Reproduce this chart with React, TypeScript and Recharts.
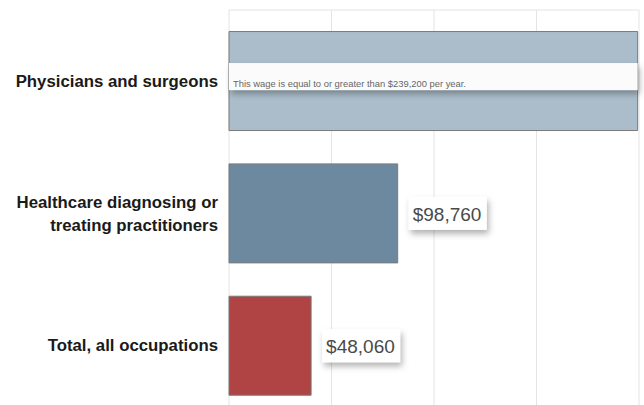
import { BarChart, Bar, XAxis, YAxis, CartesianGrid, Cell, LabelList } from "recharts";

const categories = [
  "Physicians and surgeons",
  "Healthcare diagnosing or treating practitioners",
  "Total, all occupations",
];
const tickLines = [
  ["Physicians and surgeons"],
  ["Healthcare diagnosing or", "treating practitioners"],
  ["Total, all occupations"],
];
const wages = [239200, 98760, 48060];
const notes = ["This wage is equal to or greater than $239,200 per year.", "", ""];
const barColors = ["#abbdca", "#6d899f", "#b04343"];
const xTicks = [0, 60000, 120000, 180000, 240000];

const data = categories.map((name, i) => ({ name, wage: wages[i], note: notes[i] }));

const fmt = (v: number) => "$" + v.toLocaleString("en-US");

function CategoryTick(props: any) {
  const { x, y, payload } = props;
  const idx = categories.indexOf(payload.value);
  const lines = tickLines[idx] ?? [payload.value];
  const lh = 23;
  const start = y - ((lines.length - 1) * lh) / 2;
  return (
    <text
      x={x}
      y={start}
      textAnchor="end"
      fontFamily="'Liberation Sans', Arial, sans-serif"
      fontWeight="bold"
      fontSize={16.8}
      fill="#1a1a1a"
    >
      {lines.map((l, i) => (
        <tspan key={i} x={x} y={start + i * lh} dominantBaseline="central">
          {l}
        </tspan>
      ))}
    </text>
  );
}

function ValueLabel(props: any) {
  const { x, y, width, height, value, index } = props;
  const cy = y + height / 2;
  const note = notes[index];
  if (note) {
    return (
      <g>
        <rect x={x} y={cy - 18} width={width} height={27} fill="#fbfbfb" filter="url(#shadow)" />
        <text
          x={x + 4}
          y={cy + 2}
          dominantBaseline="central"
          fontFamily="'Liberation Sans', Arial, sans-serif"
          fontSize={9.4}
          fill="#666"
        >
          {note}
        </text>
      </g>
    );
  }
  const bx = x + width + 11;
  return (
    <g>
      <rect x={bx} y={cy - 16.5} width={78} height={33} fill="#fff" filter="url(#shadow)" />
      <text
        x={bx + 4}
        y={cy + 1}
        dominantBaseline="central"
        fontFamily="'Liberation Sans', Arial, sans-serif"
        fontSize={19}
        fill="#4a4a4a"
      >
        {fmt(value)}
      </text>
    </g>
  );
}

export default function App() {
  return (
    <div
      style={{
        position: "fixed",
        top: 0,
        left: 0,
        width: 644,
        height: 405,
        overflow: "hidden",
        background: "#fff",
      }}
    >
      <BarChart
        width={644}
        height={412}
        data={data}
        layout="vertical"
        margin={{ top: 10, right: 5, left: 0, bottom: 0 }}
        barCategoryGap="12.5%"
      >
        <defs>
          <filter id="shadow" x="-10%" y="-30%" width="130%" height="190%">
            <feDropShadow dx="2" dy="4" stdDeviation="3" floodColor="#000" floodOpacity="0.3" />
          </filter>
        </defs>
        <CartesianGrid stroke="#e4e4e4" horizontalPoints={[10]} />
        <XAxis type="number" domain={[0, 240000]} ticks={xTicks} hide />
        <YAxis
          type="category"
          dataKey="name"
          width={229}
          axisLine={false}
          tickLine={false}
          tickMargin={5}
          padding={{ top: 5, bottom: 0 }}
          tick={<CategoryTick />}
          interval={0}
        />
        <Bar dataKey="wage" stroke="#7a7a7a" strokeWidth={1} isAnimationActive={false}>
          {data.map((_, i) => (
            <Cell key={i} fill={barColors[i]} />
          ))}
          <LabelList dataKey="wage" content={<ValueLabel />} />
        </Bar>
      </BarChart>
    </div>
  );
}
